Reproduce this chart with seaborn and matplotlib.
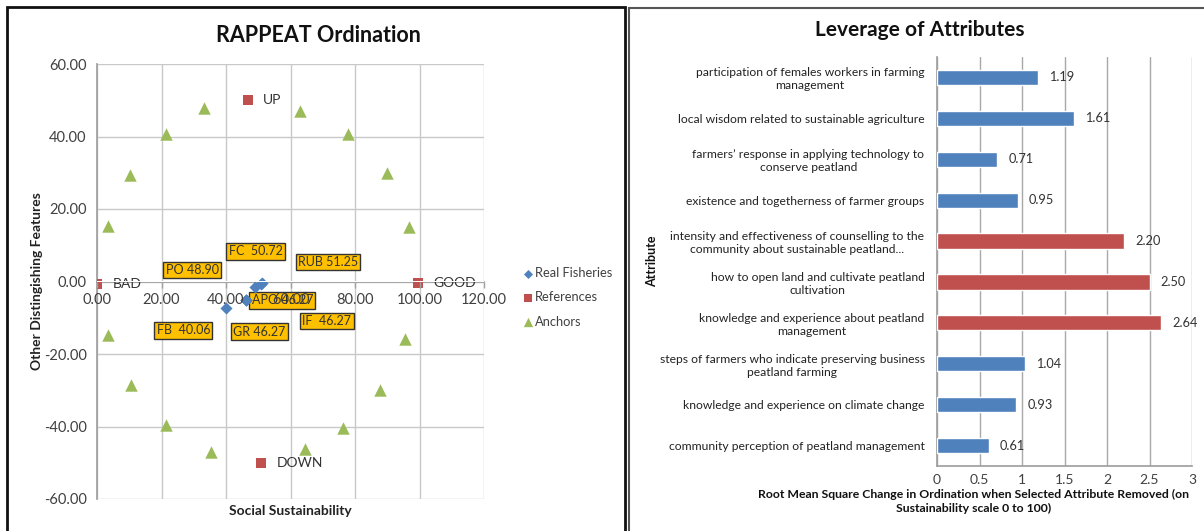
import matplotlib
matplotlib.use("Agg")
import matplotlib.pyplot as plt
from matplotlib.patches import Rectangle
import seaborn as sns
import pandas as pd

# ---------------- data ----------------
# RAPPEAT ordination: real fisheries (assessed dimensions)
fishery_names = ["FB", "GR", "IF", "APO", "PO", "FC", "RUB"]
fishery_x = [40.06, 46.27, 46.27, 46.27, 48.90, 50.72, 51.25]
fishery_y = [-7.4, -5.2, -5.2, -5.2, -1.4, -0.8, -0.5]
fishery_labels = ["FB  40.06", "GR 46.27", "IF  46.27", "APO 46.27",
                  "PO 48.90", "FC  50.72", "RUB 51.25"]
label_x = [26.8, 50.3, 71.3, 57.5, 29.5, 49.2, 71.6]
label_y = [-13.5, -13.8, -10.9, -5.2, 3.2, 8.3, 5.4]

# reference points
ref_names = ["BAD", "GOOD", "UP", "DOWN"]
ref_x = [0.0, 99.6, 46.7, 51.0]
ref_y = [-0.8, -0.3, 50.0, -50.0]

# anchor points
anchor_x = [3.4, 10.3, 21.3, 33.1, 63.0, 77.8, 89.9, 96.8,
            95.5, 87.7, 76.4, 64.5, 35.3, 21.3, 10.5, 3.4]
anchor_y = [15.2, 29.3, 40.6, 47.8, 46.9, 40.6, 29.8, 14.9,
            -15.9, -30.0, -40.5, -46.1, -47.1, -39.7, -28.6, -14.8]

x_ticks = [0, 20, 40, 60, 80, 100, 120]
y_ticks = [-60, -40, -20, 0, 20, 40, 60]

# Leverage of attributes
attributes = [
    "participation of females workers in farming\nmanagement",
    "local wisdom related to sustainable agriculture",
    "farmers\u2019 response in applying technology to\nconserve peatland",
    "existence and togetherness of farmer groups",
    "intensity and effectiveness of counselling to the\ncommunity about sustainable peatland...",
    "how to open land and cultivate peatland\ncultivation",
    "knowledge and experience about peatland\nmanagement",
    "steps of farmers who indicate preserving business\npeatland farming",
    "knowledge and experience on climate change",
    "community perception of peatland management",
]
rms_change = [1.19, 1.61, 0.71, 0.95, 2.20, 2.50, 2.64, 1.04, 0.93, 0.61]
highlight = [False, False, False, False, True, True, True, False, False, False]

# ---------------- style ----------------
BLUE = "#4F81BD"
RED = "#C0504D"
GREEN = "#9BBB59"
GRID = "#c8c8c8"
AXIS = "#a0a0a0"
TICK_TXT = "#404040"

sns.set_theme(style="white")
plt.rcParams["font.family"] = ["Lato", "DejaVu Sans"]

fig = plt.figure(figsize=(12.04, 5.31), dpi=100)

# panel frames
fig.patches.append(Rectangle((7 / 1204, -0.05), (625 - 7) / 1204, 1 - 7 / 531 + 0.05,
                             transform=fig.transFigure, fill=False,
                             edgecolor="#111111", linewidth=2.0))
fig.patches.append(Rectangle((629 / 1204, -0.05), (1210 - 629) / 1204, 1 - 8 / 531 + 0.05,
                             transform=fig.transFigure, fill=False,
                             edgecolor="#555555", linewidth=1.5))

# ---------------- left: ordination ----------------
ax1 = fig.add_axes([97 / 1204, 1 - 499 / 531, 387 / 1204, 435 / 531])

df_fish = pd.DataFrame({"x": fishery_x, "y": fishery_y, "name": fishery_names})
df_ref = pd.DataFrame({"x": ref_x, "y": ref_y, "name": ref_names})
df_anc = pd.DataFrame({"x": anchor_x, "y": anchor_y})

sns.scatterplot(data=df_fish, x="x", y="y", ax=ax1, marker="D", s=38,
                color=BLUE, edgecolor=BLUE, linewidth=0, label="Real Fisheries", zorder=4)
sns.scatterplot(data=df_ref, x="x", y="y", ax=ax1, marker="s", s=55,
                color=RED, edgecolor=RED, linewidth=0, label="References", zorder=4)
sns.scatterplot(data=df_anc, x="x", y="y", ax=ax1, marker="^", s=80,
                color=GREEN, edgecolor=GREEN, linewidth=0, label="Anchors", zorder=4)

for nm, x, y in zip(ref_names, ref_x, ref_y):
    ax1.annotate(nm, (x, y), xytext=(11, 0), textcoords="offset points",
                 va="center", ha="left", fontsize=10, color="#333333", zorder=5)

# data-label callouts: above the gridlines, below the x tick labels
for txt, px, py, lx, ly in zip(fishery_labels, fishery_x, fishery_y, label_x, label_y):
    ax1.annotate(txt, (px, py), xytext=(lx, ly), textcoords="data",
                 ha="center", va="center", fontsize=9, color="#333333", zorder=2,
                 bbox=dict(boxstyle="square,pad=0.18", facecolor="#FFC000",
                           edgecolor="#333333", linewidth=1.0))

ax1.set_xlim(0, 120)
ax1.set_ylim(-60, 60)
ax1.set_xticks(x_ticks)
ax1.set_yticks(y_ticks)
ax1.set_yticklabels([f"{v:.2f}" for v in y_ticks])
ax1.grid(True, color=GRID, linewidth=1.0)
ax1.set_axisbelow(True)
for s in ["top", "right"]:
    ax1.spines[s].set_visible(False)
# horizontal axis line crosses at y = 0, under the markers
ax1.spines["bottom"].set_position(("data", 0))
ax1.spines["bottom"].set_color(AXIS)
ax1.spines["left"].set_color(AXIS)
ax1.tick_params(axis="y", labelsize=10.5, colors=TICK_TXT, length=4,
                direction="out", width=1, color=AXIS)
ax1.tick_params(axis="x", labelbottom=False, length=0)

# x tick labels on a secondary axis so they sit on top of the callouts
xax = ax1.secondary_xaxis(0.5)
xax.set_xticks(x_ticks)
xax.set_xticklabels([f"{v:.2f}" for v in x_ticks])
xax.xaxis.set_ticks_position("bottom")
xax.tick_params(axis="x", labelsize=10.5, colors=TICK_TXT, length=4,
                direction="out", width=1, color=AXIS, pad=4,
                bottom=True, top=False, labelbottom=True, labeltop=False)
for s in xax.spines.values():
    s.set_visible(False)
xax.set_zorder(6)

ax1.set_xlabel("Social Sustainability", fontsize=10, fontweight="bold", color="#222222")
ax1.xaxis.set_label_coords(0.5, -0.013)
ax1.set_ylabel("Other Distingishing Features", fontsize=10, fontweight="bold", color="#222222")
ax1.yaxis.set_label_coords(-0.14, 0.5)

leg = ax1.legend(loc="upper left", bbox_to_anchor=(514 / 1204, 1 - 262 / 531),
                 bbox_transform=fig.transFigure, frameon=False, fontsize=9.3,
                 handletextpad=-0.2, labelspacing=0.95, borderaxespad=0,
                 markerscale=0.75, labelcolor="#404040", handlelength=1.4)

fig.text(318 / 1204, 1 - 35 / 531, "RAPPEAT Ordination", ha="center", va="center",
         fontsize=15.5, fontweight="bold", color="#111111")

# ---------------- right: leverage ----------------
ax2 = fig.add_axes([937 / 1204, 1 - 466 / 531, 255 / 1204, 409 / 531])

df_lev = pd.DataFrame({"attribute": attributes, "rms": rms_change,
                       "group": ["hi" if h else "lo" for h in highlight]})
sns.barplot(data=df_lev, y="attribute", x="rms", hue="group",
            palette={"hi": RED, "lo": BLUE}, dodge=False, width=0.37,
            orient="h", legend=False, ax=ax2, zorder=3, saturation=1)

for cont in ax2.containers:
    ax2.bar_label(cont, fmt="%.2f", padding=8, fontsize=9.2, color="#333333")

ax2.set_xlim(0, 3)
ax2.set_ylim(len(attributes) - 0.5, -0.5)
ax2.set_xticks([0, 0.5, 1, 1.5, 2, 2.5, 3])
ax2.set_xticklabels(["0", "0.5", "1", "1.5", "2", "2.5", "3"])
ax2.xaxis.grid(True, color="#a8a8a8", linewidth=1.0, zorder=0)
ax2.yaxis.grid(False)
ax2.set_axisbelow(True)
for s in ["top", "right"]:
    ax2.spines[s].set_visible(False)
ax2.spines["left"].set_color(AXIS)
ax2.spines["bottom"].set_color(AXIS)
ax2.tick_params(axis="x", labelsize=10, colors=TICK_TXT, length=0, pad=6)
ax2.tick_params(axis="y", which="major", labelsize=8.7, colors="#222222", length=0, pad=9)
ax2.set_yticks([i + 0.5 for i in range(-1, len(attributes))], minor=True)
ax2.tick_params(axis="y", which="minor", length=5, color=AXIS, direction="out")
for lbl in ax2.get_yticklabels():
    lbl.set_multialignment("center")

ax2.set_xlabel("Root Mean Square Change in Ordination when Selected Attribute Removed (on\n"
               "Sustainability scale 0 to 100)", fontsize=8.8, fontweight="bold",
               color="#111111", linespacing=1.3)
ax2.xaxis.set_label_coords(0.145, -0.056)
ax2.set_ylabel("Attribute", fontsize=9, fontweight="bold", color="#111111")
ax2.yaxis.set_label_coords(-1.095, 0.5)

fig.text(920 / 1204, 1 - 30 / 531, "Leverage of Attributes", ha="center", va="center",
         fontsize=15, fontweight="bold", color="#111111")

fig.savefig("out.png", dpi=100)
